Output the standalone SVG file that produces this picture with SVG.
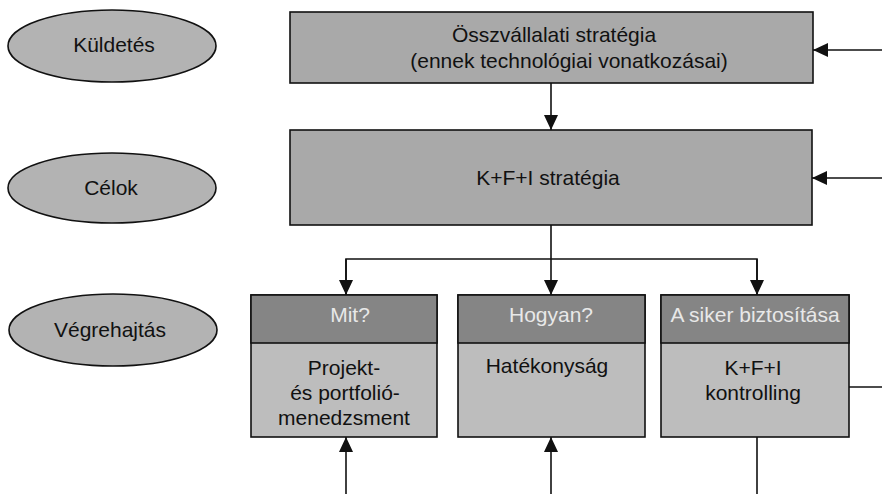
<svg xmlns="http://www.w3.org/2000/svg" width="882" height="494" viewBox="0 0 882 494">
<style>
  .ell { fill: #b3b3b3; stroke: #111; stroke-width: 1.6; }
  .box { fill: #a9a9a9; stroke: #111; stroke-width: 1.6; }
  .head { fill: #858585; stroke: #111; stroke-width: 1.6; }
  .body { fill: #bdbdbd; stroke: #111; stroke-width: 1.6; }
  .t { font-family: "Liberation Sans", Arial, sans-serif; font-size: 21px; fill: #111; text-anchor: middle; }
  .th { font-family: "Liberation Sans", Arial, sans-serif; font-size: 21px; fill: #e8e8e8; text-anchor: middle; }
  .c { fill: none; stroke: #111; stroke-width: 1.6; }
</style>
<defs>
  <marker id="ah" markerUnits="userSpaceOnUse" markerWidth="16" markerHeight="16" viewBox="0 0 16 16" refX="15" refY="8" orient="auto">
    <path d="M0,1 L15,8 L0,15 Z" fill="#111"/>
  </marker>
</defs>

<g id="kuldetes">
  <ellipse class="ell" cx="112" cy="46" rx="104" ry="36"/>
  <text class="t" x="114" y="52">Küldetés</text>
</g>
<g id="celok">
  <ellipse class="ell" cx="112" cy="188" rx="104" ry="35"/>
  <text class="t" x="111" y="195">Célok</text>
</g>
<g id="vegrehajtas">
  <ellipse class="ell" cx="113" cy="330" rx="104" ry="36"/>
  <text class="t" x="110" y="337">Végrehajtás</text>
</g>

<g id="osszvallalati">
  <rect class="box" x="290" y="12" width="523" height="71"/>
  <text class="t" x="554" y="42">Összvállalati stratégia</text>
  <text class="t" x="569" y="68">(ennek technológiai vonatkozásai)</text>
</g>
<g id="kfi-strategia">
  <rect class="box" x="290" y="130" width="522" height="95"/>
  <text class="t" x="548" y="185">K+F+I stratégia</text>
</g>

<g id="mit">
  <rect class="body" x="251" y="295" width="186" height="142"/>
  <rect class="head" x="251" y="295" width="186" height="48"/>
  <text class="th" x="350" y="322">Mit?</text>
  <text class="t" x="344" y="375">Projekt-</text>
  <text class="t" x="345" y="400">és portfolió-</text>
  <text class="t" x="344" y="425">menedzsment</text>
</g>
<g id="hogyan">
  <rect class="body" x="458" y="295" width="187" height="142"/>
  <rect class="head" x="458" y="295" width="187" height="48"/>
  <text class="th" x="551" y="322">Hogyan?</text>
  <text class="t" x="547" y="373">Hatékonyság</text>
</g>
<g id="siker">
  <rect class="body" x="661" y="295" width="188" height="142"/>
  <rect class="head" x="661" y="295" width="188" height="48"/>
  <text class="th" x="755" y="322">A siker biztosítása</text>
  <text class="t" x="753" y="375">K+F+I</text>
  <text class="t" x="753" y="400">kontrolling</text>
</g>

<g id="connectors">
  <line class="c" x1="882" y1="50" x2="813" y2="50" marker-end="url(#ah)"/>
  <line class="c" x1="882" y1="178" x2="812" y2="178" marker-end="url(#ah)"/>
  <line class="c" x1="551" y1="83" x2="551" y2="130" marker-end="url(#ah)"/>
  <polyline class="c" points="551,225 551,259"/>
  <polyline class="c" points="346,295 346,259 757,259 757,295"/>
  <line class="c" x1="346" y1="259" x2="346" y2="295" marker-end="url(#ah)"/>
  <line class="c" x1="551" y1="259" x2="551" y2="295" marker-end="url(#ah)"/>
  <line class="c" x1="757" y1="259" x2="757" y2="295" marker-end="url(#ah)"/>
  <line class="c" x1="346" y1="494" x2="346" y2="437" marker-end="url(#ah)"/>
  <line class="c" x1="551" y1="494" x2="551" y2="437" marker-end="url(#ah)"/>
  <line class="c" x1="757" y1="437" x2="757" y2="494"/>
  <line class="c" x1="849" y1="387" x2="882" y2="387"/>
</g>
</svg>
